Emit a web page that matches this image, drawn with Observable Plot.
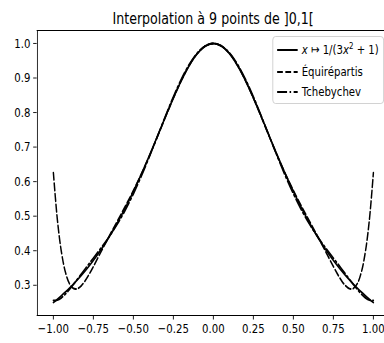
<!DOCTYPE html>
<html><head><meta charset="utf-8">
<script src="https://cdn.jsdelivr.net/npm/d3@7"></script>
<script src="https://cdn.jsdelivr.net/npm/@observablehq/plot@0.6"></script>
<style>
html,body{margin:0;padding:0;background:#fff;overflow:hidden;}
#outer{position:relative;width:384px;height:343px;overflow:hidden;}
#wrap{position:absolute;left:0;top:0;width:492px;height:343px;transform:scaleX(0.7805);transform-origin:0 0;font-family:"DejaVu Sans",sans-serif;color:#000;}
#title{position:absolute;left:273px;top:8.5px;transform:translateX(-50%);white-space:nowrap;font-size:16.2px;line-height:normal;}
#legend{position:absolute;left:349px;top:36px;width:143px;height:68px;box-sizing:border-box;border:1px solid #ccc;border-radius:4px;background:rgba(255,255,255,0.8);font-size:13px;}
.row{position:absolute;left:0;width:140px;height:16px;white-space:nowrap;}
.row svg{position:absolute;left:4.5px;top:3px;}
.row span{position:absolute;left:36.5px;top:0;line-height:16px;}
sup{font-size:9px;vertical-align:5px;line-height:0;}
</style>
</head><body>
<div id="outer">
<div id="wrap">
  <div id="chart"></div>
  <div id="title">Interpolation à 9 points de ]0,1[</div>
  <div id="legend"></div>
</div>
</div>
<script>
const xs = [-1, -0.975, -0.95, -0.925, -0.9, -0.875, -0.85, -0.825, -0.8, -0.775, -0.75, -0.7, -0.65, -0.6, -0.55, -0.5, -0.45, -0.4, -0.35, -0.3, -0.25, -0.2, -0.15, -0.1, -0.05,
  0,
  0.05, 0.1, 0.15, 0.2, 0.25, 0.3, 0.35, 0.4, 0.45, 0.5, 0.55, 0.6, 0.65, 0.7, 0.75, 0.775, 0.8, 0.825, 0.85, 0.875, 0.9, 0.925, 0.95, 0.975, 1];

const fValues = [0.25, 0.25961, 0.26972, 0.28036, 0.29155, 0.30332, 0.31571, 0.32874, 0.34247, 0.35690, 0.37209, 0.40486, 0.44101, 0.48077, 0.52425, 0.57143, 0.62208, 0.67568, 0.73126, 0.78740, 0.84211, 0.89286, 0.93677, 0.97087, 0.99256,
  1,
  0.99256, 0.97087, 0.93677, 0.89286, 0.84211, 0.78740, 0.73126, 0.67568, 0.62208, 0.57143, 0.52425, 0.48077, 0.44101, 0.40486, 0.37209, 0.35690, 0.34247, 0.32874, 0.31571, 0.30332, 0.29155, 0.28036, 0.26972, 0.25961, 0.25];

const equiValues = [0.62577, 0.48958, 0.39707, 0.33829, 0.30505, 0.29075, 0.29010, 0.29892, 0.31405, 0.33308, 0.35429, 0.39895, 0.44315, 0.48613, 0.52917, 0.57410, 0.62231, 0.67432, 0.72948, 0.78610, 0.84167, 0.89313, 0.93731, 0.97129, 0.99269,
  1,
  0.99269, 0.97129, 0.93731, 0.89313, 0.84167, 0.78610, 0.72948, 0.67432, 0.62231, 0.57410, 0.52917, 0.48613, 0.44315, 0.39895, 0.35429, 0.33308, 0.31405, 0.29892, 0.29010, 0.29075, 0.30505, 0.33829, 0.39707, 0.48958, 0.62577];

const chebValues = [0.25617, 0.25692, 0.26365, 0.27438, 0.28761, 0.30225, 0.31754, 0.33302, 0.34843, 0.36368, 0.37882, 0.40934, 0.44162, 0.47741, 0.51810, 0.56437, 0.61606, 0.67212, 0.73078, 0.78967, 0.84607, 0.89714, 0.94016, 0.97275, 0.99309,
  1,
  0.99309, 0.97275, 0.94016, 0.89714, 0.84607, 0.78967, 0.73078, 0.67212, 0.61606, 0.56437, 0.51810, 0.47741, 0.44162, 0.40934, 0.37882, 0.36368, 0.34843, 0.33302, 0.31754, 0.30225, 0.28761, 0.27438, 0.26365, 0.25692, 0.25617];

const xTicks = [-1, -0.75, -0.5, -0.25, 0, 0.25, 0.5, 0.75, 1];
const yTicks = [0.3, 0.4, 0.5, 0.6, 0.7, 0.8, 0.9, 1.0];

const seriesNames = ["x ↦ 1/(3x² + 1)", "Équirépartis", "Tchebychev"];
const seriesDash = [null, "7.4,3.2", "12.8,3.2,2,3.2"];
const seriesValues = [fValues, equiValues, chebValues];

const xDomain = [-1.1, 1.1];
const yDomain = [0.2125, 1.0375];

const marks = [];
seriesValues.forEach((vals, k) => {
  const rows = xs.map((x, i) => ({x, y: vals[i]}));
  marks.push(Plot.line(rows, {x: "x", y: "y", stroke: "#000", strokeWidth: 1.9, curve: "catmull-rom",
    strokeDasharray: seriesDash[k] || undefined}));
});

const chart = Plot.plot({
  width: 492, height: 343,
  marginLeft: 47, marginRight: 0, marginTop: 30, marginBottom: 28,
  x: {domain: xDomain, range: [47.4, 498.4], ticks: xTicks, tickFormat: d3.format(".2f"), tickSize: 4.5, tickPadding: 4, label: null},
  y: {domain: yDomain, ticks: yTicks, tickFormat: d3.format(".1f"), tickSize: 4.5, tickPadding: 4, label: null},
  style: {fontFamily: "DejaVu Sans", fontSize: "13px", color: "#000", background: "#fff"},
  marks: [
    Plot.ruleX([xDomain[0]], {stroke: "#000", strokeWidth: 1.05}),
    Plot.ruleY([yDomain[0]], {stroke: "#000", strokeWidth: 1.05}),
    Plot.ruleY([yDomain[1]], {stroke: "#000", strokeWidth: 1.05}),
    ...marks
  ]
});
document.getElementById("chart").appendChild(chart);

// legend
const legend = document.getElementById("legend");
const rowCenters = [13, 34.5, 55];
seriesNames.forEach((name, k) => {
  const row = document.createElement("div");
  row.className = "row";
  row.style.top = (rowCenters[k] - 8) + "px";
  const dash = seriesDash[k] ? ` stroke-dasharray="${seriesDash[k]}"` : "";
  let label = name;
  if (k === 0) label = '<i>x</i> ↦ 1/(3<i>x</i><sup>2</sup> + 1)';
  row.innerHTML = `<svg width="27" height="10"><line x1="0" x2="26.4" y1="5" y2="5" stroke="#000" stroke-width="1.9"${dash}/></svg><span>${label}</span>`;
  legend.appendChild(row);
});
</script>
</body></html>
